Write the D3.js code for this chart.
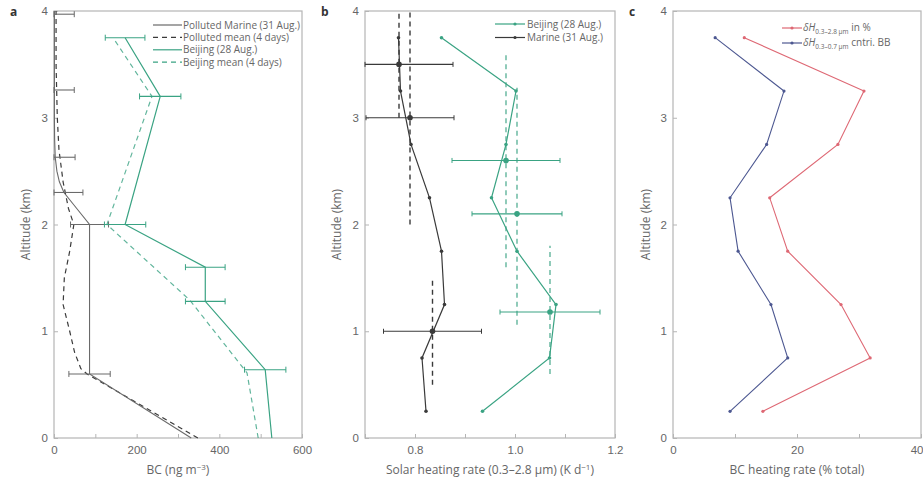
<!DOCTYPE html>
<html><head><meta charset="utf-8">
<script src="https://cdn.jsdelivr.net/npm/d3@7/dist/d3.min.js"></script>
<style>
body{margin:0;background:#fff;}
svg{display:block;font-family:"Open Sans","DejaVu Sans",sans-serif;}
</style></head>
<body><svg id="c" width="923" height="483"></svg>
<script>
// ---------- DATA ----------
// Panel a: BC (ng m-3) vs altitude (km)
const marineAlt   = [0, 0.6, 2.0, 2.15, 2.3, 2.4, 2.5, 2.63, 2.8, 3.0, 4.0];
const marineBC    = [332, 86, 86, 55, 24, 13, 7, 3, 1.5, 1, 1];
const marineErrAlt = [0.6, 2.0, 2.3, 2.63, 3.26, 3.97];
const marineErrC   = [86, 86, 22, 3, 1, 1];
const marineErrHW  = [50, 46, 48, 48, 48, 48];

const pMeanAlt = [0, 0.6, 0.65, 0.8, 1.0, 1.25, 1.5, 1.75, 2.0, 2.15, 2.4, 2.7, 3.0, 3.5, 4.0];
const pMeanBC  = [348, 80, 65, 50, 38, 22, 25, 38, 48, 35, 22, 12, 8, 5, 5];

const bjAlt = [0, 0.64, 1.28, 1.6, 2.0, 3.2, 3.75];
const bjBC  = [527, 511, 366, 366, 172, 257, 172];
const bjErrHW = [0, 50, 48, 48, 50, 50, 48];

const bjMeanAlt = [0, 0.61, 1.29, 2.0, 3.2, 3.72];
const bjMeanBC  = [494, 467, 329, 128, 237, 148];

// Panel b: solar heating rate (K d-1)
const hrAlt    = [0.25, 0.75, 1.25, 1.75, 2.25, 2.75, 3.25, 3.75];
const hrBeijing = [0.935, 1.069, 1.082, 1.004, 0.953, 0.982, 1.002, 0.853];
const hrMarine  = [0.822, 0.814, 0.859, 0.853, 0.829, 0.792, 0.771, 0.767];
// layer means: value, bottom, top, error-bar altitude, half width
const bjLayerVal = [0.982, 1.004, 1.07];
const bjLayerBot = [1.6, 1.06, 0.6];
const bjLayerTop = [3.6, 3.28, 1.8];
const bjLayerErrAlt = [2.6, 2.1, 1.18];
const bjLayerHW  = [0.108, 0.09, 0.1];
const mLayerVal = [0.768, 0.79, 0.835];
const mLayerBot = [3.0, 2.0, 0.5];
const mLayerTop = [4.0, 4.0, 1.5];
const mLayerErrAlt = [3.5, 3.0, 1.0];
const mLayerHW  = [0.108, 0.088, 0.098];

// Panel c: BC heating rate (% total)
const pctTotal = [14.5, 31.8, 27.1, 18.5, 15.6, 26.6, 30.8, 11.5];
const pctBB    = [9.2, 18.5, 15.8, 10.5, 9.2, 15.1, 17.9, 6.8];

const altTicks = [0, 1, 2, 3, 4];
const aTicks = [0, 100, 200, 300, 400, 500, 600];
const aLabels = [0, 200, 400, 600];
const bTicks = [0.7, 0.8, 0.9, 1.0, 1.1, 1.2];
const bLabels = [0.8, 1.0, 1.2];
const cTicks = [0, 10, 20, 30, 40];
const cLabels = [0, 20, 40];

// ---------- STYLE ----------
const GREEN = "#3aa383", DARK = "#3a3a3a", GREY = "#6a6a6a", RED = "#de6874", BLUE = "#4d5891";
const FRAME = "#b5b5b5", TXT = "#666";
const yTop = 11, yBot = 438;
const svg = d3.select("#c");
const y = d3.scaleLinear().domain([0, 4]).range([yBot, yTop]);

function panel(x0, x1, domain, ticks, labels, fmt, label, xlabel, ylabelX, tickLabelX) {
  const x = d3.scaleLinear().domain(domain).range([x0, x1]);
  const g = svg.append("g");
  g.append("rect").attr("x", x0).attr("y", yTop).attr("width", x1 - x0).attr("height", yBot - yTop)
    .attr("fill", "none").attr("stroke", FRAME).attr("stroke-width", 1.2);
  const xa = g.append("g").attr("transform", `translate(0,${yBot})`)
    .call(d3.axisBottom(x).tickValues(ticks).tickSize(-4).tickPadding(8)
      .tickFormat(d => labels.some(l => Math.abs(l - d) < 1e-9) ? fmt(d) : ""));
  const ya = g.append("g").attr("transform", `translate(${x0},0)`)
    .call(d3.axisLeft(y).tickValues(altTicks).tickSize(-4).tickPadding(tickLabelX).tickFormat(d3.format("d")));
  [xa, ya].forEach(a => {
    a.select(".domain").remove();
    a.selectAll("line").attr("stroke", FRAME);
    a.selectAll("text").attr("fill", TXT).style("font-size", "11.5px");
  });
  // keep the last x tick label inside the picture
  xa.selectAll(".tick text").filter(d => x(d) > 915).attr("text-anchor", "end").attr("dx", "2");
  g.append("text").attr("x", (x0 + x1) / 2).attr("y", 474).attr("text-anchor", "middle")
    .attr("fill", TXT).style("font-size", "12px").html(xlabel);
  g.append("text").attr("transform", `translate(${ylabelX},${(yTop + yBot) / 2}) rotate(-90)`)
    .attr("text-anchor", "middle").attr("fill", TXT).style("font-size", "12px").text("Altitude (km)");
  g.append("text").attr("x", x0 - 44).attr("y", 16).attr("fill", "#333")
    .style("font-size", "12px").style("font-weight", "bold").text(label);
  return {x, g};
}

function errBar(g, x, alt, lo, hi, color, cap) {
  const xmin = x.domain()[0];
  const l = Math.max(lo, xmin);
  g.append("line").attr("x1", x(l)).attr("x2", x(hi)).attr("y1", y(alt)).attr("y2", y(alt))
    .attr("stroke", color).attr("stroke-width", 1.1);
  [l, hi].forEach(v => g.append("line").attr("x1", x(v)).attr("x2", x(v))
    .attr("y1", y(alt) - cap).attr("y2", y(alt) + cap).attr("stroke", color).attr("stroke-width", 1));
}

// ---------- PANEL A ----------
{
  const {x, g} = panel(54, 302, [0, 600], aTicks, aLabels, d3.format("d"), "a", "BC (ng m<tspan dy='-4' font-size='8'>−3</tspan><tspan dy='4'>)</tspan>", 30, 6);
  const line = d3.line().x(d => x(d[0])).y(d => y(d[1]));
  g.append("path").datum(pMeanBC.map((v, i) => [v, pMeanAlt[i]])).attr("d", line)
    .attr("fill", "none").attr("stroke", DARK).attr("stroke-width", 1.2).attr("stroke-dasharray", "5,4");
  g.append("path").datum(marineBC.map((v, i) => [v, marineAlt[i]])).attr("d", line)
    .attr("fill", "none").attr("stroke", GREY).attr("stroke-width", 1.1);
  g.append("path").datum(bjMeanBC.map((v, i) => [v, bjMeanAlt[i]])).attr("d", line)
    .attr("fill", "none").attr("stroke", GREEN).attr("stroke-opacity", 0.8).attr("stroke-width", 1.2).attr("stroke-dasharray", "5,4");
  g.append("path").datum(bjBC.map((v, i) => [v, bjAlt[i]])).attr("d", line)
    .attr("fill", "none").attr("stroke", GREEN).attr("stroke-width", 1.2);
  marineErrAlt.forEach((a, i) => errBar(g, x, a, marineErrC[i] - marineErrHW[i], marineErrC[i] + marineErrHW[i], GREY, 3));
  bjAlt.forEach((a, i) => { if (bjErrHW[i] > 0) errBar(g, x, a, bjBC[i] - bjErrHW[i], bjBC[i] + bjErrHW[i], GREEN, 3); });
  // legend
  const leg = [["Polluted Marine (31 Aug.)", GREY, null], ["Polluted mean (4 days)", DARK, "5,4"],
               ["Beijing (28 Aug.)", GREEN, null], ["Beijing mean (4 days)", GREEN, "5,4"]];
  leg.forEach((d, i) => {
    const yy = 25 + i * 12.4;
    g.append("line").attr("x1", 153).attr("x2", 182).attr("y1", yy).attr("y2", yy)
      .attr("stroke", d[1]).attr("stroke-width", 1.2).attr("stroke-dasharray", d[2]);
    g.append("text").attr("x", 183).attr("y", yy + 3.5).attr("fill", TXT).style("font-size", "10px").text(d[0]);
  });
}

// ---------- PANEL B ----------
{
  const {x, g} = panel(365, 615, [0.7, 1.2], bTicks, bLabels, d3.format(".1f"), "b", "Solar heating rate (0.3–2.8 μm) (K d<tspan dy='-4' font-size='8'>−1</tspan><tspan dy='4'>)</tspan>", 341, 6);
  const line = d3.line().x(d => x(d[0])).y(d => y(d[1]));
  bjLayerVal.forEach((v, i) => g.append("line").attr("x1", x(v)).attr("x2", x(v))
    .attr("y1", y(bjLayerBot[i])).attr("y2", y(bjLayerTop[i])).attr("stroke", GREEN).attr("stroke-opacity", 0.8)
    .attr("stroke-width", 1.4).attr("stroke-dasharray", "5,4"));
  mLayerVal.forEach((v, i) => g.append("line").attr("x1", x(v)).attr("x2", x(v))
    .attr("y1", y(mLayerBot[i])).attr("y2", y(mLayerTop[i])).attr("stroke", DARK)
    .attr("stroke-width", 1.4).attr("stroke-dasharray", "5,4"));
  g.append("path").datum(hrBeijing.map((v, i) => [v, hrAlt[i]])).attr("d", line)
    .attr("fill", "none").attr("stroke", GREEN).attr("stroke-width", 1.2);
  g.append("path").datum(hrMarine.map((v, i) => [v, hrAlt[i]])).attr("d", line)
    .attr("fill", "none").attr("stroke", DARK).attr("stroke-width", 1.2);
  hrAlt.forEach((a, i) => {
    g.append("circle").attr("cx", x(hrBeijing[i])).attr("cy", y(a)).attr("r", 1.8).attr("fill", GREEN);
    g.append("circle").attr("cx", x(hrMarine[i])).attr("cy", y(a)).attr("r", 1.8).attr("fill", DARK);
  });
  bjLayerVal.forEach((v, i) => {
    errBar(g, x, bjLayerErrAlt[i], v - bjLayerHW[i], v + bjLayerHW[i], GREEN, 2.5);
    g.append("circle").attr("cx", x(v)).attr("cy", y(bjLayerErrAlt[i])).attr("r", 2.8).attr("fill", GREEN);
  });
  mLayerVal.forEach((v, i) => {
    errBar(g, x, mLayerErrAlt[i], v - mLayerHW[i], v + mLayerHW[i], DARK, 2.5);
    g.append("circle").attr("cx", x(v)).attr("cy", y(mLayerErrAlt[i])).attr("r", 2.8).attr("fill", DARK);
  });
  [["Beijing (28 Aug.)", GREEN], ["Marine (31 Aug.)", DARK]].forEach((d, i) => {
    const yy = 24 + i * 13.5;
    g.append("line").attr("x1", 495).attr("x2", 525).attr("y1", yy).attr("y2", yy).attr("stroke", d[1]).attr("stroke-width", 1.2);
    g.append("circle").attr("cx", 515).attr("cy", yy).attr("r", 1.6).attr("fill", d[1]);
    g.append("text").attr("x", 527).attr("y", yy + 3.5).attr("fill", TXT).style("font-size", "10px").text(d[0]);
  });
}

// ---------- PANEL C ----------
{
  const {x, g} = panel(673, 921, [0, 40], cTicks, cLabels, d3.format("d"), "c", "BC heating rate (% total)", 650, 6);
  const line = d3.line().x(d => x(d[0])).y(d => y(d[1]));
  [[pctTotal, RED], [pctBB, BLUE]].forEach(([arr, col]) => {
    g.append("path").datum(arr.map((v, i) => [v, hrAlt[i]])).attr("d", line)
      .attr("fill", "none").attr("stroke", col).attr("stroke-width", 1.1);
    arr.forEach((v, i) => g.append("circle").attr("cx", x(v)).attr("cy", y(hrAlt[i])).attr("r", 1.6).attr("fill", col));
  });
  const legs = [["0.3–2.8 μm", " in %", RED], ["0.3–0.7 μm", " cntri. BB", BLUE]];
  legs.forEach((d, i) => {
    const yy = 28 + i * 15;
    g.append("line").attr("x1", 782).attr("x2", 802).attr("y1", yy).attr("y2", yy).attr("stroke", d[2]).attr("stroke-width", 1.2);
    g.append("circle").attr("cx", 792).attr("cy", yy).attr("r", 1.6).attr("fill", d[2]);
    const t = g.append("text").attr("x", 803).attr("y", yy + 3).attr("fill", TXT).style("font-size", "10px");
    t.append("tspan").style("font-style", "italic").text("δH");
    t.append("tspan").attr("dy", 3).style("font-size", "6.5px").text(d[0]);
    t.append("tspan").attr("dy", -3).text(d[1]);
  });
}
</script></body></html>
